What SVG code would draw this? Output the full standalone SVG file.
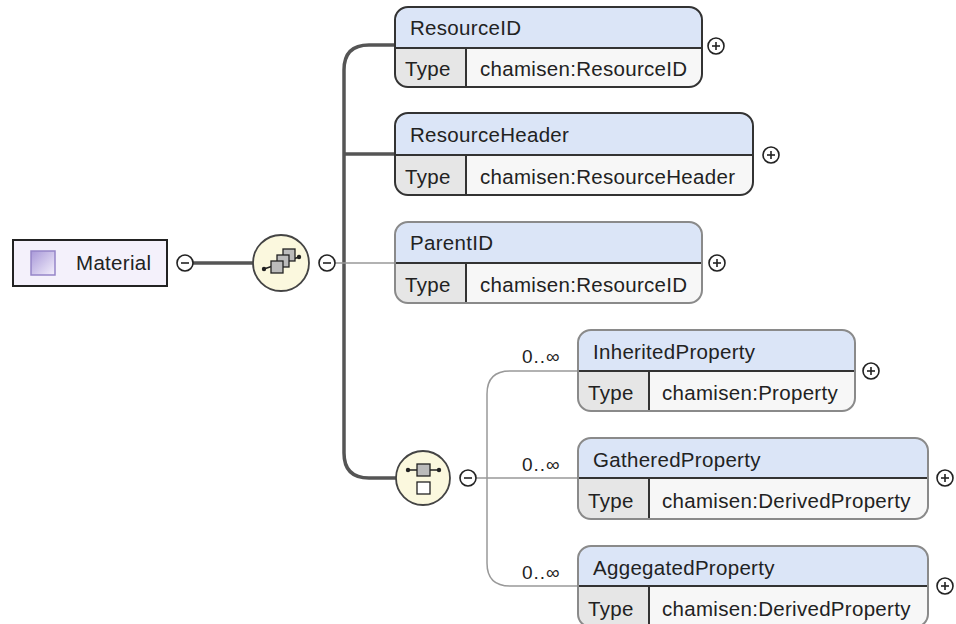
<svg xmlns="http://www.w3.org/2000/svg" width="956" height="624" viewBox="0 0 956 624">
<defs>
<linearGradient id="ig" x1="0" y1="0" x2="1" y2="1"><stop offset="0" stop-color="#a898d8"/><stop offset="1" stop-color="#f4f0fc"/></linearGradient>
<clipPath id="c1"><rect x="395" y="7" width="307" height="80" rx="13"/></clipPath>
<clipPath id="c2"><rect x="395" y="113" width="358" height="82" rx="13"/></clipPath>
<clipPath id="c3"><rect x="395" y="222" width="307" height="81" rx="13"/></clipPath>
<clipPath id="c4"><rect x="578" y="330" width="277" height="81" rx="13"/></clipPath>
<clipPath id="c5"><rect x="578" y="438" width="350" height="81" rx="13"/></clipPath>
<clipPath id="c6"><rect x="578" y="546" width="350" height="81" rx="13"/></clipPath>
</defs>
<style>
text{font-family:"Liberation Sans",Arial,sans-serif;font-size:20.5px;letter-spacing:0.3px;fill:#222}
.hdr{fill:#dbe5f7}
.tc{fill:#e6e6e6}
.vc{fill:#f7f7f7}
.req{fill:none;stroke:#333;stroke-width:2}
.opt{fill:none;stroke:#8a8a8a;stroke-width:2}
.div{stroke:#333;stroke-width:2}
.pm{fill:#fff;stroke:#222;stroke-width:1.6}
.pmv{stroke:#222;stroke-width:1.6}
.bus{fill:none;stroke:#555;stroke-width:3.5}
.thin{fill:none;stroke:#999;stroke-width:1.5}
.grp{fill:#fbf8de;stroke:#444;stroke-width:1.8}
.sq{fill:#bbb;stroke:#222;stroke-width:1.3}
.mult{font-size:19px;letter-spacing:1px}
</style>

<g id="connectors">
<path class="bus" d="M 193 263 H 253" stroke="#777"/>
<path class="bus" d="M 395 45 H 369 Q 344 45 344 70 V 453 Q 344 478 369 478 H 396"/>
<path class="bus" d="M 344 154 H 395"/>
<path class="thin" d="M 335 263 H 395"/>
<path class="thin" d="M 578 371 H 510 Q 487 371 487 394 V 563 Q 487 586 510 586 H 578"/>
<path class="thin" d="M 476 478 H 578"/>
</g>

<g id="Material">
<rect x="13" y="240" width="154" height="46" fill="#f4f1fb" stroke="#222" stroke-width="2"/>
<rect x="31" y="251" width="24" height="24" fill="url(#ig)" stroke="#9585c8" stroke-width="1.5"/>
<text x="76" y="270">Material</text>
<circle class="pm" cx="185" cy="263" r="8"/><line class="pmv" x1="181" y1="263" x2="189" y2="263"/>
</g>

<g id="sequence">
<circle class="grp" cx="281" cy="263" r="28"/>
<line x1="264" y1="269" x2="299" y2="257" stroke="#222" stroke-width="1.5"/>
<circle cx="264" cy="269" r="2.2" fill="#222"/><circle cx="299" cy="257" r="2.2" fill="#222"/>
<rect class="sq" x="283" y="249" width="12" height="12"/>
<rect class="sq" x="277" y="255" width="12" height="12"/>
<rect class="sq" x="271" y="261" width="12" height="12"/>
<circle class="pm" cx="327" cy="263" r="8"/><line class="pmv" x1="323" y1="263" x2="331" y2="263"/>
</g>

<g id="ResourceID">
<g clip-path="url(#c1)">
<rect class="hdr" x="395" y="7" width="307" height="41"/>
<rect class="tc" x="395" y="48" width="70" height="39"/>
<rect class="vc" x="465" y="48" width="237" height="39"/>
</g>
<line class="div" x1="395" y1="48" x2="702" y2="48"/><line class="div" x1="466" y1="48" x2="466" y2="87"/>
<rect class="req" x="395" y="7" width="307" height="80" rx="13"/>
<text x="410" y="35">ResourceID</text>
<text x="405" y="76">Type</text>
<text x="480" y="76">chamisen:ResourceID</text>
<circle class="pm" cx="716" cy="46" r="8"/><line class="pmv" x1="712" y1="46" x2="720" y2="46"/><line class="pmv" x1="716" y1="42" x2="716" y2="50"/>
</g>

<g id="ResourceHeader">
<g clip-path="url(#c2)">
<rect class="hdr" x="395" y="113" width="358" height="42"/>
<rect class="tc" x="395" y="155" width="70" height="40"/>
<rect class="vc" x="465" y="155" width="288" height="40"/>
</g>
<line class="div" x1="395" y1="155" x2="753" y2="155"/><line class="div" x1="466" y1="155" x2="466" y2="195"/>
<rect class="req" x="395" y="113" width="358" height="82" rx="13"/>
<text x="410" y="142">ResourceHeader</text>
<text x="405" y="184">Type</text>
<text x="480" y="184">chamisen:ResourceHeader</text>
<circle class="pm" cx="771" cy="155" r="8"/><line class="pmv" x1="767" y1="155" x2="775" y2="155"/><line class="pmv" x1="771" y1="151" x2="771" y2="159"/>
</g>

<g id="ParentID">
<g clip-path="url(#c3)">
<rect class="hdr" x="395" y="222" width="307" height="41"/>
<rect class="tc" x="395" y="263" width="70" height="40"/>
<rect class="vc" x="465" y="263" width="237" height="40"/>
</g>
<line class="div" x1="395" y1="263" x2="702" y2="263"/><line class="div" x1="466" y1="263" x2="466" y2="303"/>
<rect class="opt" x="395" y="222" width="307" height="81" rx="13"/>
<text x="410" y="250">ParentID</text>
<text x="405" y="292">Type</text>
<text x="480" y="292">chamisen:ResourceID</text>
<circle class="pm" cx="717" cy="263" r="8"/><line class="pmv" x1="713" y1="263" x2="721" y2="263"/><line class="pmv" x1="717" y1="259" x2="717" y2="267"/>
</g>

<g id="choice">
<circle class="grp" cx="423" cy="478" r="27"/>
<line x1="408" y1="470" x2="439" y2="470" stroke="#222" stroke-width="1.5"/>
<circle cx="408" cy="470" r="2.2" fill="#222"/><circle cx="439" cy="470" r="2.2" fill="#222"/>
<rect class="sq" x="417" y="464" width="13" height="12"/>
<rect x="417" y="482" width="13" height="12" fill="#fff" stroke="#222" stroke-width="1.3"/>
<circle class="pm" cx="468" cy="478" r="8"/><line class="pmv" x1="464" y1="478" x2="472" y2="478"/>
</g>

<g id="InheritedProperty">
<g clip-path="url(#c4)">
<rect class="hdr" x="578" y="330" width="277" height="41"/>
<rect class="tc" x="578" y="371" width="70" height="40"/>
<rect class="vc" x="648" y="371" width="207" height="40"/>
</g>
<line class="div" x1="578" y1="371" x2="855" y2="371"/><line class="div" x1="649" y1="371" x2="649" y2="411"/>
<rect class="opt" x="578" y="330" width="277" height="81" rx="13"/>
<text x="593" y="359">InheritedProperty</text>
<text x="588" y="400">Type</text>
<text x="662" y="400">chamisen:Property</text>
<text class="mult" x="522" y="363">0..∞</text>
<circle class="pm" cx="871" cy="371" r="8"/><line class="pmv" x1="867" y1="371" x2="875" y2="371"/><line class="pmv" x1="871" y1="367" x2="871" y2="375"/>
</g>

<g id="GatheredProperty">
<g clip-path="url(#c5)">
<rect class="hdr" x="578" y="438" width="350" height="40"/>
<rect class="tc" x="578" y="478" width="70" height="41"/>
<rect class="vc" x="648" y="478" width="280" height="41"/>
</g>
<line class="div" x1="578" y1="478" x2="928" y2="478"/><line class="div" x1="649" y1="478" x2="649" y2="519"/>
<rect class="opt" x="578" y="438" width="350" height="81" rx="13"/>
<text x="593" y="467">GatheredProperty</text>
<text x="588" y="508">Type</text>
<text x="662" y="508">chamisen:DerivedProperty</text>
<text class="mult" x="522" y="471">0..∞</text>
<circle class="pm" cx="945" cy="478" r="8"/><line class="pmv" x1="941" y1="478" x2="949" y2="478"/><line class="pmv" x1="945" y1="474" x2="945" y2="482"/>
</g>

<g id="AggegatedProperty">
<g clip-path="url(#c6)">
<rect class="hdr" x="578" y="546" width="350" height="40"/>
<rect class="tc" x="578" y="586" width="70" height="41"/>
<rect class="vc" x="648" y="586" width="280" height="41"/>
</g>
<line class="div" x1="578" y1="586" x2="928" y2="586"/><line class="div" x1="649" y1="586" x2="649" y2="627"/>
<rect class="opt" x="578" y="546" width="350" height="81" rx="13"/>
<text x="593" y="575">AggegatedProperty</text>
<text x="588" y="616">Type</text>
<text x="662" y="616">chamisen:DerivedProperty</text>
<text class="mult" x="522" y="579">0..∞</text>
<circle class="pm" cx="945" cy="586" r="8"/><line class="pmv" x1="941" y1="586" x2="949" y2="586"/><line class="pmv" x1="945" y1="582" x2="945" y2="590"/>
</g>
</svg>
